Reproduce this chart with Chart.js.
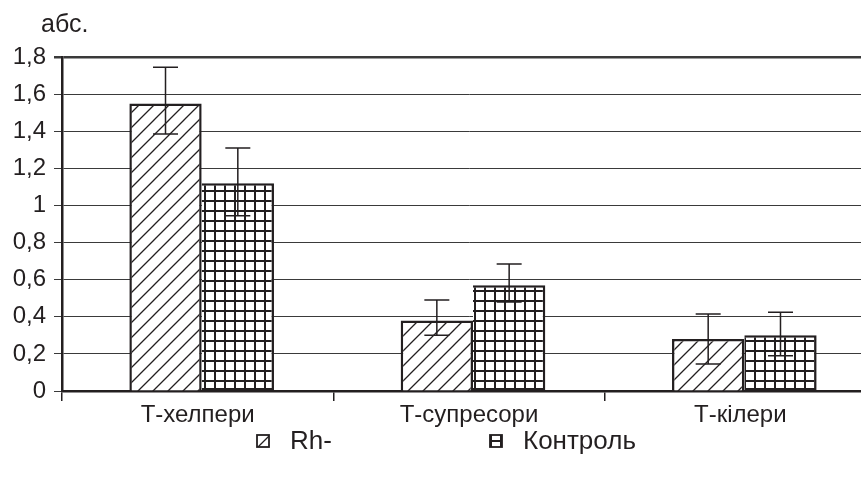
<!DOCTYPE html>
<html lang="uk">
<head>
    <meta charset="UTF-8">
    <title>Т-лімфоцити</title>
    <style>
        html, body {
            margin: 0;
            padding: 0;
            background: #fff;
            overflow: hidden;
        }
        #chart {
            display: block;
        }
    </style>
</head>
<body>
    <canvas id="chart" width="880" height="477"></canvas>

    <script src="https://cdn.jsdelivr.net/npm/chart.js"></script>
    <script>
        // Values
        const categories = ['Т-хелпери', 'Т-супресори', 'Т-кілери'];
        const seriesNames = ['Rh-', 'Контроль'];
        const rhValues = [1.55, 0.38, 0.28];
        const controlValues = [1.12, 0.57, 0.30];
        const rhErrLow = [1.385, 0.30, 0.145];
        const rhErrHigh = [1.745, 0.49, 0.415];
        const controlErrLow = [0.945, 0.48, 0.19];
        const controlErrHigh = [1.31, 0.685, 0.425];
        const yTickLabels = ['0', '0,2', '0,4', '0,6', '0,8', '1', '1,2', '1,4', '1,6', '1,8'];
        const unitLabel = 'абс.';

        const ink = '#231f20';
        const barShift = 4; // bars sit a little right of the category centre in the original
        Chart.defaults.font.family = '"Liberation Sans", Arial, sans-serif';
        Chart.defaults.font.size = 24;
        Chart.defaults.color = ink;

        // fill patterns for the bars
        function hatchPattern() {
            const c = document.createElement('canvas');
            c.width = 15; c.height = 15;
            const g = c.getContext('2d');
            g.fillStyle = '#fff';
            g.fillRect(0, 0, 15, 15);
            g.strokeStyle = ink;
            g.lineWidth = 1.3;
            g.beginPath();
            g.moveTo(0, 15); g.lineTo(15, 0);
            g.moveTo(-2, 2); g.lineTo(2, -2);
            g.moveTo(13, 17); g.lineTo(17, 13);
            g.stroke();
            return g.createPattern(c, 'repeat');
        }

        function gridPattern() {
            const c = document.createElement('canvas');
            c.width = 10; c.height = 10;
            const g = c.getContext('2d');
            g.fillStyle = '#fff';
            g.fillRect(0, 0, 10, 10);
            g.fillStyle = ink;
            g.fillRect(0, 0, 2, 10);
            g.fillRect(0, 0, 10, 2);
            return g.createPattern(c, 'repeat');
        }

        const fills = [hatchPattern(), gridPattern()];

        const shiftBars = {
            id: 'shiftBars',
            beforeDatasetsDraw(chart) {
                chart.ctx.save();
                chart.ctx.translate(barShift, 0);
            },
            afterDatasetsDraw(chart) {
                chart.ctx.restore();
            }
        };

        const errorBars = {
            id: 'errorBars',
            afterDatasetsDraw(chart) {
                const ctx = chart.ctx;
                const y = chart.scales.y;
                [[rhErrLow, rhErrHigh], [controlErrLow, controlErrHigh]].forEach(([lo, hi], d) => {
                    chart.getDatasetMeta(d).data.forEach((bar, i) => {
                        const x = bar.x + barShift;
                        const top = y.getPixelForValue(hi[i]);
                        const bot = y.getPixelForValue(lo[i]);
                        ctx.save();
                        ctx.strokeStyle = ink;
                        ctx.lineWidth = 1.5;
                        ctx.beginPath();
                        ctx.moveTo(x, top); ctx.lineTo(x, bot);
                        ctx.moveTo(x - 12.5, top); ctx.lineTo(x + 12.5, top);
                        ctx.moveTo(x - 12.5, bot); ctx.lineTo(x + 12.5, bot);
                        ctx.stroke();
                        ctx.restore();
                    });
                });
            }
        };

        // unit label above the axis and the legend under the chart
        const legendAndUnit = {
            id: 'legendAndUnit',
            afterDraw(chart) {
                const ctx = chart.ctx;
                ctx.save();
                ctx.fillStyle = ink;
                ctx.textBaseline = 'middle';
                ctx.font = '25px "Liberation Sans", Arial, sans-serif';
                ctx.fillText(unitLabel, 41, 25);

                ctx.font = '26px "Liberation Sans", Arial, sans-serif';
                const items = [{ box: 257, text: 290 }, { box: 490, text: 523 }];
                chart.data.datasets.forEach((ds, i) => {
                    const it = items[i];
                    ctx.fillStyle = ds.backgroundColor;
                    ctx.fillRect(it.box, 435, 12, 12);
                    ctx.strokeStyle = ink;
                    ctx.lineWidth = 1.8;
                    ctx.strokeRect(it.box, 435, 12, 12);
                    ctx.fillStyle = ink;
                    ctx.fillText(ds.label, it.text, 442);
                });
                ctx.restore();
            }
        };

        new Chart(document.getElementById('chart'), {
            type: 'bar',
            data: {
                labels: categories,
                datasets: [
                    { label: seriesNames[0], data: rhValues, backgroundColor: fills[0], borderColor: ink, borderWidth: 2.5 },
                    { label: seriesNames[1], data: controlValues, backgroundColor: fills[1], borderColor: ink, borderWidth: 2.5, borderSkipped: 'left' }
                ]
            },
            options: {
                responsive: false,
                animation: false,
                devicePixelRatio: 1,
                categoryPercentage: 0.533,
                barPercentage: 1,
                layout: { padding: { top: 57, right: 4, bottom: 46, left: 0 } },
                plugins: {
                    legend: { display: false },
                    tooltip: { enabled: false }
                },
                scales: {
                    x: {
                        grid: { offset: true, drawOnChartArea: false, tickLength: 10, color: ink, lineWidth: 1.5 },
                        border: { color: ink, width: 2.5 },
                        ticks: { padding: 0 },
                        afterFit(s) { s.height = 40; }
                    },
                    y: {
                        min: 0,
                        max: 1.8,
                        ticks: { stepSize: 0.2, padding: 8, callback: (v, i) => yTickLabels[i] },
                        grid: {
                            color: '#3a3a3a',
                            lineWidth: c => c.index === yTickLabels.length - 1 ? 2.5 : 1,
                            tickLength: 8
                        },
                        border: { color: ink, width: 2.5 },
                        afterFit(s) { s.width = 62; }
                    }
                }
            },
            plugins: [shiftBars, errorBars, legendAndUnit]
        });
    </script>
</body>
</html>
